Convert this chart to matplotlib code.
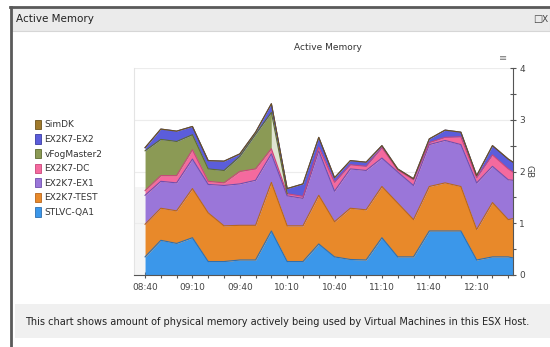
import matplotlib.pyplot as plt
import matplotlib.dates as mdates
import matplotlib.patches as patches
import numpy as np
import pandas as pd

# sample times: every 10 min from 08:40, last sample at 12:33
times = pd.date_range("2013-05-14 08:40", "2013-05-14 12:30", freq="10min")
times = times.append(pd.DatetimeIndex(["2013-05-14 12:33"]))

# values in GB, bottom series first
stlvc_qa1 = [0.35, 0.67, 0.61, 0.72, 0.26, 0.26, 0.29, 0.29, 0.85, 0.26, 0.26, 0.60, 0.35,
             0.30, 0.29, 0.72, 0.35, 0.35, 0.85, 0.85, 0.85, 0.29, 0.35, 0.35, 0.33]
ex2k7_test = [0.63, 0.62, 0.63, 0.95, 0.94, 0.69, 0.67, 0.67, 0.94, 0.69, 0.69, 0.94, 0.68,
              0.99, 0.97, 0.99, 1.04, 0.72, 0.86, 0.93, 0.86, 0.59, 1.05, 0.72, 0.76]
ex2k7_ex1 = [0.56, 0.52, 0.54, 0.57, 0.55, 0.78, 0.80, 0.87, 0.55, 0.58, 0.53, 0.86, 0.59,
             0.76, 0.76, 0.55, 0.60, 0.66, 0.81, 0.82, 0.81, 0.90, 0.70, 0.77, 0.74]
ex2k7_dc = [0.09, 0.11, 0.14, 0.18, 0.06, 0.05, 0.24, 0.22, 0.10, 0.04, 0.04, 0.07, 0.17,
            0.08, 0.08, 0.20, 0.04, 0.11, 0.04, 0.06, 0.15, 0.10, 0.22, 0.21, 0.16]
vfogmaster2 = [0.77, 0.70, 0.66, 0.29, 0.24, 0.24, 0.29, 0.67, 0.70, 0.00, 0.00, 0.00, 0.00,
               0.00, 0.00, 0.00, 0.00, 0.00, 0.00, 0.00, 0.00, 0.00, 0.00, 0.00, 0.00]
ex2k7_ex2 = [0.06, 0.20, 0.20, 0.16, 0.16, 0.18, 0.05, 0.04, 0.17, 0.10, 0.24, 0.19, 0.09,
             0.08, 0.08, 0.04, 0.02, 0.02, 0.07, 0.14, 0.09, 0.04, 0.18, 0.19, 0.19]
simdk = [0.00, 0.00, 0.00, 0.00, 0.00, 0.00, 0.00, 0.00, 0.00, 0.00, 0.00, 0.00, 0.00,
         0.00, 0.00, 0.00, 0.00, 0.00, 0.00, 0.00, 0.00, 0.00, 0.00, 0.00, 0.00]

names = ["STLVC-QA1", "EX2K7-TEST", "EX2K7-EX1", "EX2K7-DC", "vFogMaster2", "EX2K7-EX2", "SimDK"]
series = [stlvc_qa1, ex2k7_test, ex2k7_ex1, ex2k7_dc, vfogmaster2, ex2k7_ex2, simdk]
fills = ["#3b97ea", "#e8892a", "#9a76d9", "#f46a9e", "#8b9a55", "#5b5ddb", "#a07a2c"]
edges = ["#2f6fae", "#b8661c", "#6f4fae", "#c8467a", "#5e6b30", "#3a3ca0", "#6e531c"]

W, H = 550, 347
fig = plt.figure(figsize=(5.5, 3.47), dpi=100)


def fx(x):
    return x / W


def fy(y):
    return 1 - y / H


# panel frame
fig.patches.append(patches.Rectangle((fx(12), fy(31)), fx(538), 24 / H, transform=fig.transFigure,
                                     facecolor="#ebebeb", edgecolor="#d6d6d6", lw=0.8))
fig.patches.append(patches.Rectangle((fx(15), fy(338)), fx(535), 34 / H, transform=fig.transFigure,
                                     facecolor="#f0f0f0", edgecolor="none"))
fig.lines.append(plt.Line2D([fx(11), fx(11)], [0, fy(7)], transform=fig.transFigure, color="#5a5a5a", lw=2))
fig.lines.append(plt.Line2D([fx(10), 1], [fy(7), fy(7)], transform=fig.transFigure, color="#5a5a5a", lw=2))
fig.text(fx(16), fy(19), "Active Memory", fontsize=7.5, color="#222", va="center")
fig.text(fx(533), fy(19), "□", fontsize=7, color="#444", va="center")
fig.text(fx(542), fy(19), "X", fontsize=6.5, color="#444", va="center")

ax = fig.add_axes([fx(134), fy(275), (513 - 134) / W, (275 - 68) / H])
ax.axhspan(0, 1.7, color="#f5f5f5", zorder=0, lw=0)
for g in [1, 2, 3, 4]:
    ax.axhline(g, color="#ececec", lw=0.8, zorder=0.5)

x = times.to_pydatetime()
base = np.zeros(len(x))
for i, (vals, fc, ec) in enumerate(zip(series, fills, edges)):
    top = base + np.array(vals)
    if names[i] == "vFogMaster2":
        # series stops after 10:00 - drawn as a pale wedge
        ax.fill_between(x[:9], base[:9], top[:9], color=fc, lw=0, zorder=2)
        ax.fill_between(x[8:10], base[8:10], [top[8], top[9]], color="#dfe4d2", lw=0, zorder=2)
        ax.plot(x[:10], top[:10], color=ec, lw=0.8, zorder=3)
    else:
        ax.fill_between(x, base, top, color=fc, lw=0, zorder=2)
        ax.plot(x, top, color=ec, lw=0.8, zorder=3)
    base = top

ax.set_ylim(0, 4)
ax.set_xlim(pd.Timestamp("2013-05-14 08:33"), pd.Timestamp("2013-05-14 12:33"))
ax.yaxis.tick_right()
ax.set_yticks([0, 1, 2, 3, 4])
ax.set_yticks([0.5, 1.5, 2.5, 3.5], minor=True)
ax.xaxis.set_major_locator(mdates.MinuteLocator(byminute=[10, 40]))
ax.xaxis.set_minor_locator(mdates.MinuteLocator(byminute=[0, 10, 20, 30, 40, 50]))
ax.xaxis.set_major_formatter(mdates.DateFormatter("%H:%M"))
ax.tick_params(axis="both", which="both", direction="inout", color="#555", labelsize=6.5,
               labelcolor="#444")
ax.tick_params(axis="both", which="major", length=5, width=0.8)
ax.tick_params(axis="both", which="minor", length=4, width=0.8)
ax.tick_params(axis="x", pad=3)
ax.tick_params(axis="y", pad=2)
ax.spines["top"].set_visible(False)
ax.spines["left"].set_color("#e4e4e4")
ax.spines["bottom"].set_color("#555")
ax.spines["right"].set_color("#555")
ax.set_facecolor("white")

fig.text(fx(328), fy(48), "Active Memory", fontsize=6.5, color="#333", ha="center", va="center")
fig.text(fx(529), fy(172), "GB", fontsize=6.5, color="#444", rotation=-90, ha="center", va="center")
fig.text(fx(503), fy(58), "≡", fontsize=7, color="#777", ha="center", va="center")

handles = [patches.Patch(facecolor=fc, edgecolor=ec, lw=0.6) for fc, ec in zip(fills, edges)][::-1]
fig.legend(handles, names[::-1], loc="upper left", bbox_to_anchor=(fx(31), fy(116)), frameon=False,
           fontsize=6.5, handlelength=0.7, handleheight=1.2, handletextpad=0.4, labelspacing=0.55,
           borderaxespad=0, labelcolor="#333")

fig.text(fx(25), fy(322), "This chart shows amount of physical memory actively being used by Virtual "
         "Machines in this ESX Host.", fontsize=7, color="#222", va="center")

fig.savefig("out.png", dpi=100)
